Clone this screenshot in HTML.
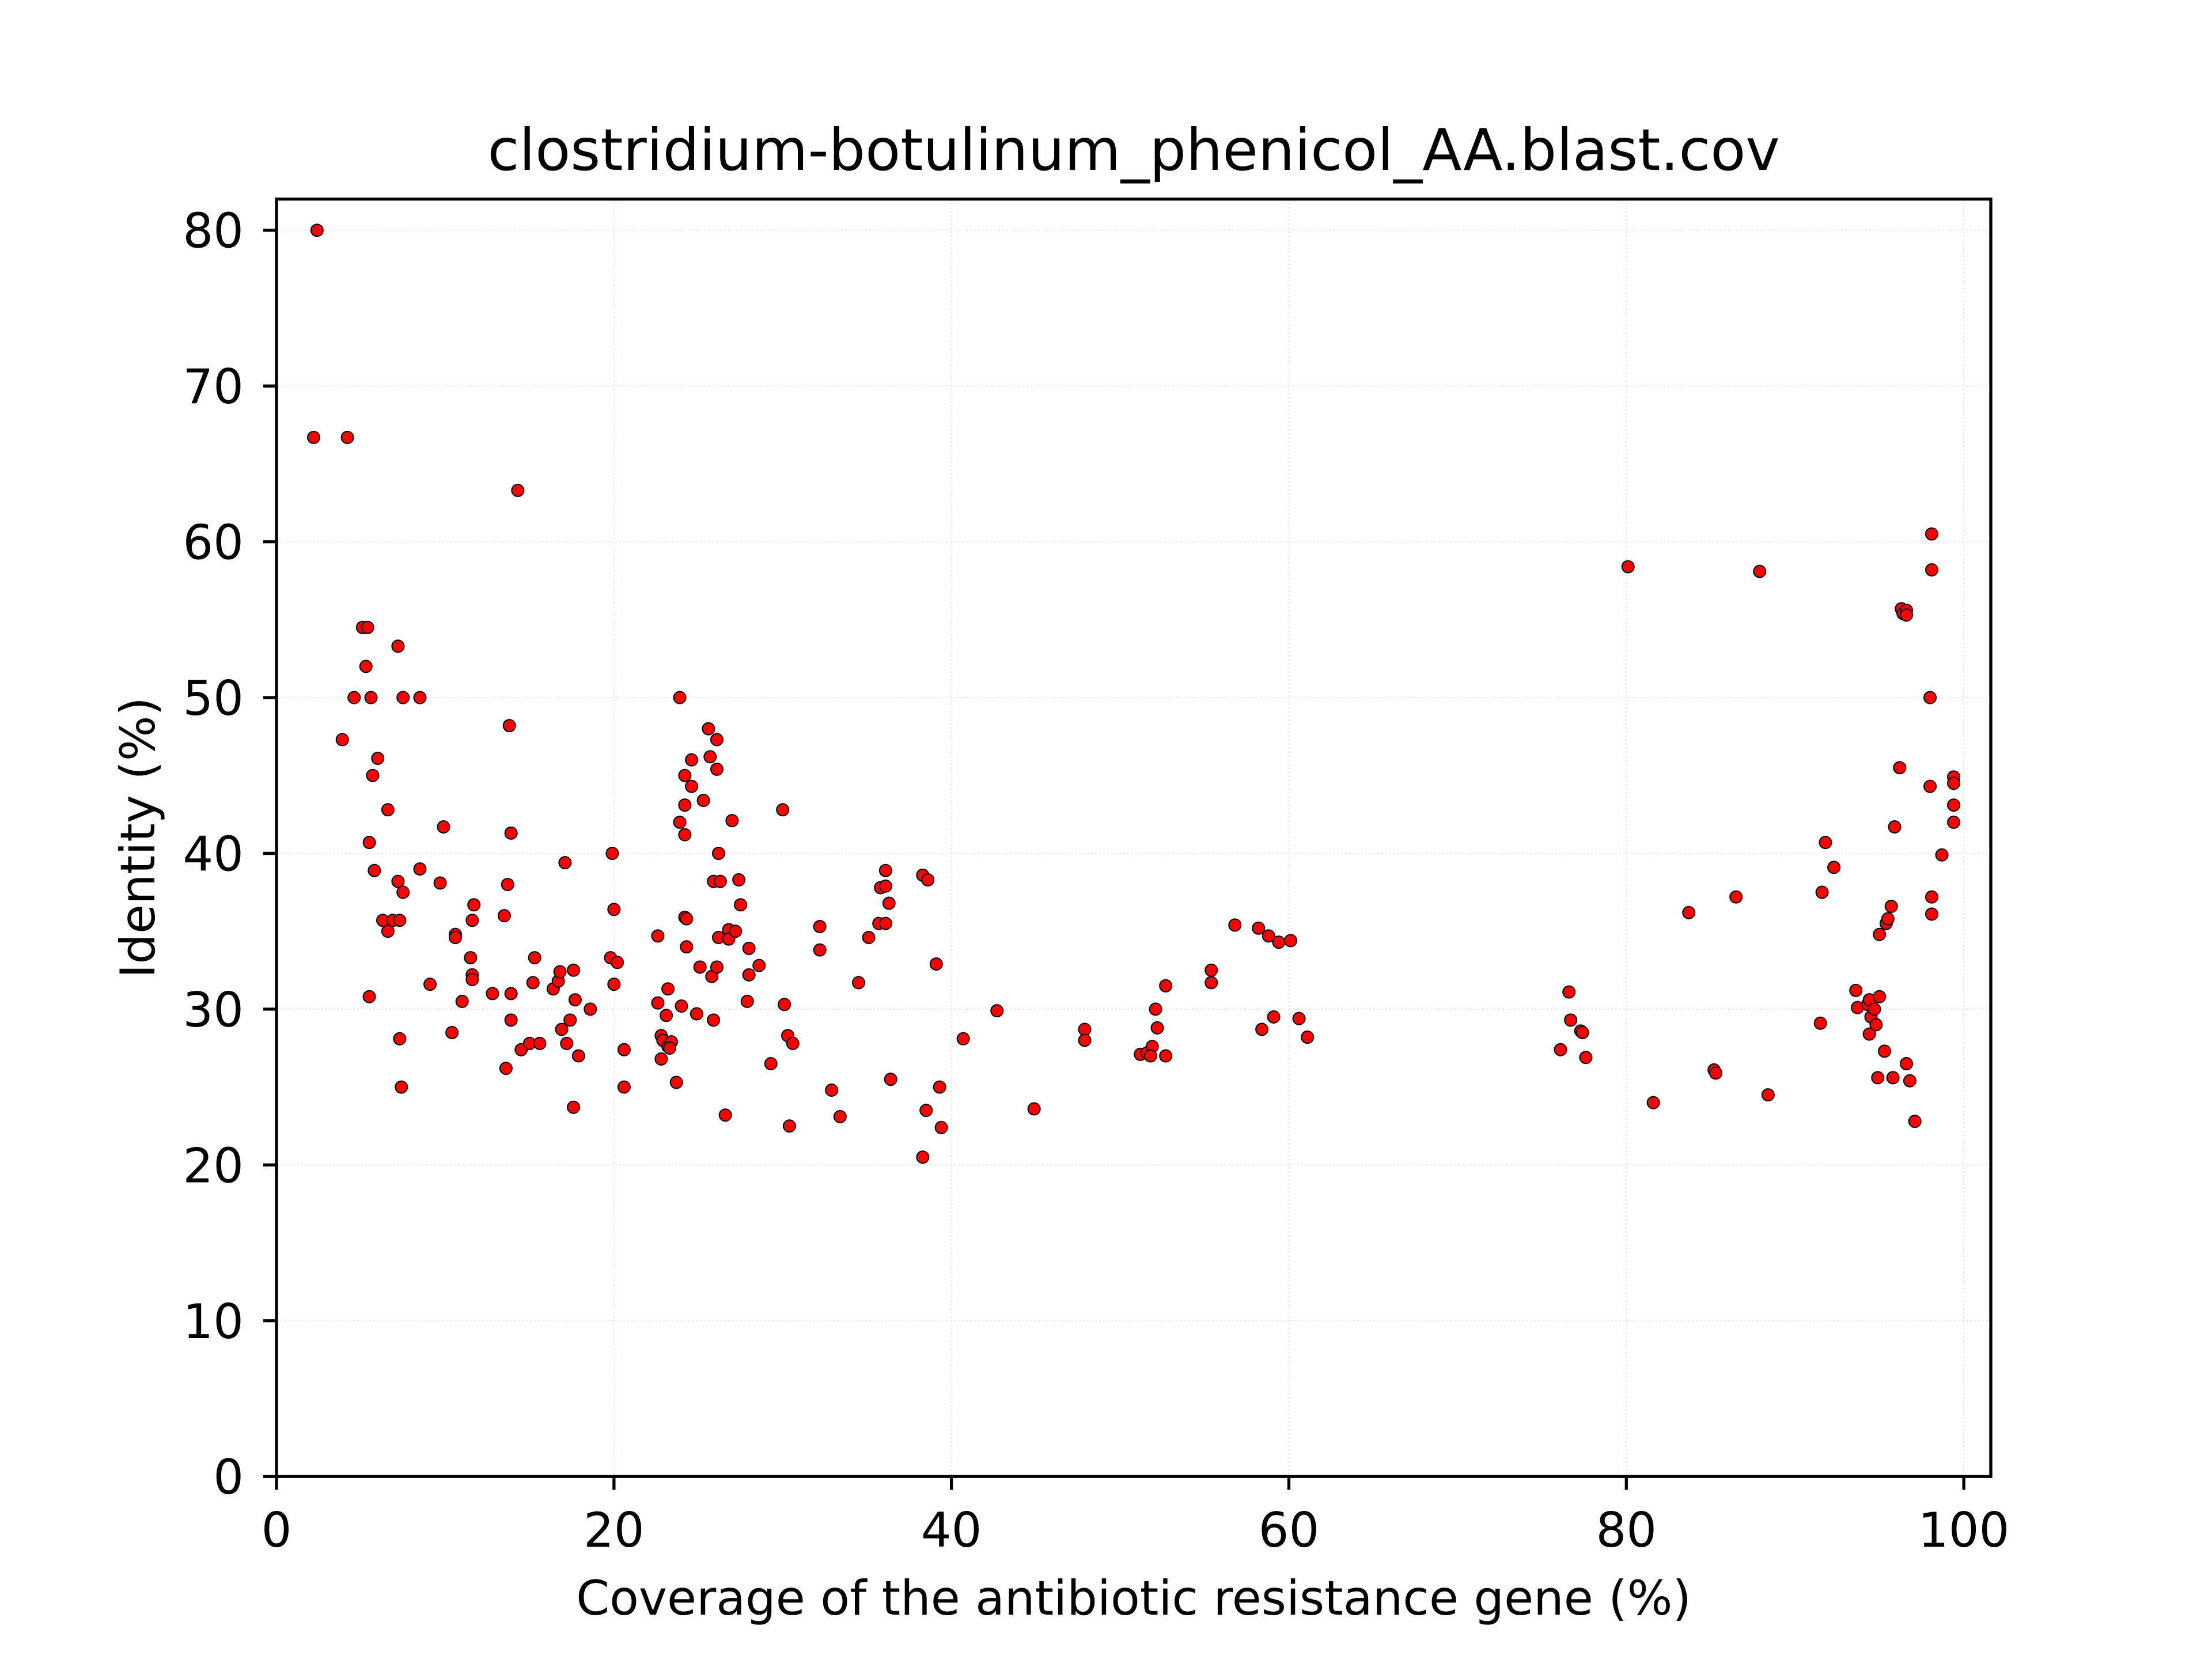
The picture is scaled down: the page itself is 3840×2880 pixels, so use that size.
<!DOCTYPE html>
<html><head><meta charset="utf-8"><style>
html,body{margin:0;padding:0;background:#fff;}
svg{display:block;font-family:"DejaVu Sans","Liberation Sans",sans-serif;}
</style></head><body>
<svg id="chart" width="3840" height="2880" viewBox="0 0 3840 2880" xmlns="http://www.w3.org/2000/svg">
<rect width="3840" height="2880" fill="#fff"/>
<text x="1968" y="295" font-size="100" text-anchor="middle">clostridium-botulinum_phenicol_AA.blast.cov</text>
<g id="grid"></g><g id="ticks"></g><g id="points"></g>
<rect x="480" y="345.6" width="2976" height="2217.6" fill="none" stroke="#000" stroke-width="5.3"/>
<text x="1968" y="2803" font-size="83" text-anchor="middle">Coverage of the antibiotic resistance gene (%)</text>
<text transform="translate(268,1454) rotate(-90)" font-size="83" text-anchor="middle">Identity (%)</text>
</svg>
<script>
const xTicks=[0,20,40,60,80,100];
const yTicks=[0,10,20,30,40,50,60,70,80];
const xs=[2.4,2.2,4.2,14.3,5.1,5.4,7.2,5.3,4.6,5.6,7.5,8.5,13.8,3.9,6,5.7,6.6,5.5,5.8,7.2,7.5,6.3,6.9,7.3,6.6,8.5,9.9,9.7,9.1,5.5,7.3,7.4,10.6,10.6,10.4,11,11.5,11.6,11.7,11.6,11.6,12.8,13.5,13.7,13.9,13.9,13.9,13.6,14.5,15,15.2,15.3,15.6,16.4,16.7,16.8,16.9,17.1,17.2,17.4,17.6,17.7,17.9,17.6,18.6,19.9,20,19.8,20.2,20,20.6,20.6,22.6,22.6,22.8,22.9,22.8,23.2,23.1,23.2,23.4,23.3,23.7,23.9,23.9,24.2,24.2,24.2,24.2,24.3,24.3,24,24.6,24.6,24.9,25.1,25.3,25.6,25.7,25.9,25.8,25.9,26.1,26.1,26.2,26.3,26.2,26.1,26.6,26.8,26.8,27.0,27.2,27.4,27.5,27.9,28,28,28.6,29.3,30,30.1,30.3,30.4,30.6,32.2,32.2,32.9,33.4,34.5,35.1,35.7,35.8,36.1,36.1,36.1,36.3,36.4,38.3,38.6,38.3,38.5,39.1,39.3,39.4,40.7,42.7,44.9,47.9,47.9,51.2,51.6,51.9,51.8,52.1,52.2,52.7,52.7,55.4,55.4,56.8,58.2,58.4,58.8,59.1,59.4,60.1,60.6,61.1,76.1,76.6,76.7,77.3,77.4,77.6,80.1,81.6,83.7,85.2,85.3,86.5,87.9,88.4,91.5,91.6,91.8,92.3,93.6,93.7,94.3,94.4,94.5,94.4,94.7,94.8,95,94.9,95.0,95.3,95.4,95.5,95.7,95.8,95.9,96.2,96.3,96.4,96.6,96.6,96.6,96.8,97.1,98.1,98.1,98,98,98.1,98.1,98.7,99.4,99.4,99.4,99.4];
const ys=[80,66.7,66.7,63.3,54.5,54.5,53.3,52,50,50,50,50,48.2,47.3,46.1,45,42.8,40.7,38.9,38.2,37.5,35.7,35.7,35.7,35,39,41.7,38.1,31.6,30.8,28.1,25,34.8,34.6,28.5,30.5,33.3,35.7,36.7,32.2,31.9,31,36,38,41.3,31,29.3,26.2,27.4,27.8,31.7,33.3,27.8,31.3,31.8,32.4,28.7,39.4,27.8,29.3,32.5,30.6,27,23.7,30,40,36.4,33.3,33,31.6,27.4,25,34.7,30.4,28.3,28,26.8,31.3,29.6,27.6,27.9,27.5,25.3,50,42,45,43.1,41.2,35.9,35.8,34,30.2,46,44.3,29.7,32.7,43.4,48,46.2,38.2,32.1,29.3,47.3,45.4,40,38.2,34.6,32.7,23.2,35.1,34.5,42.1,35,38.3,36.7,30.5,33.9,32.2,32.8,26.5,42.8,30.3,28.3,22.5,27.8,35.3,33.8,24.8,23.1,31.7,34.6,35.5,37.8,38.9,37.9,35.5,36.8,25.5,38.6,38.3,20.5,23.5,32.9,25,22.4,28.1,29.9,23.6,28.7,28,27.1,27.2,27.6,27,30,28.8,31.5,27,32.5,31.7,35.4,35.2,28.7,34.7,29.5,34.3,34.4,29.4,28.2,27.4,31.1,29.3,28.6,28.5,26.9,58.4,24,36.2,26.1,25.9,37.2,58.1,24.5,29.1,37.5,40.7,39.1,31.2,30.1,30.3,30.6,29.5,28.4,30,29,30.8,25.6,34.8,27.3,35.5,35.8,36.6,25.6,41.7,45.5,55.7,55.4,55.6,55.3,26.5,25.4,22.8,60.5,58.2,50,44.3,37.2,36.1,39.9,44.9,44.5,43.1,42];
const NS="http://www.w3.org/2000/svg";
const L=480,R=3456,T=345.6,B=2563.2,XMAX=101.6,YMAX=82;
const sx=v=>L+v/XMAX*(R-L), sy=v=>B-v/YMAX*(B-T);
function mk(tag,attrs,parent){const e=document.createElementNS(NS,tag);for(const k in attrs)e.setAttribute(k,attrs[k]);parent.appendChild(e);return e;}
const grid=document.getElementById('grid'),ticks=document.getElementById('ticks'),pts=document.getElementById('points');
xTicks.forEach(v=>{const x=sx(v);
 const g=mk('line',{x1:x,x2:x,y1:T,y2:B,stroke:'#e6e6e6','stroke-width':2,'stroke-dasharray':'3,4'},grid);
 
 
 const t=mk('line',{x1:x,x2:x,y1:B,y2:B+23,stroke:'#000','stroke-width':5.3},ticks);
 
 
 const l=mk('text',{x:x,y:B+122,'font-size':83,'text-anchor':'middle'},ticks);l.textContent=v;
 
 });
yTicks.forEach(v=>{const y=sy(v);
 const g=mk('line',{x1:L,x2:R,y1:y,y2:y,stroke:'#e6e6e6','stroke-width':2,'stroke-dasharray':'3,4'},grid);
 
 
 const t=mk('line',{x1:L-23,x2:L,y1:y,y2:y,stroke:'#000','stroke-width':5.3},ticks);
 
 
 const l=mk('text',{x:L-57,y:y+30,'font-size':83,'text-anchor':'end'},ticks);l.textContent=v;
 
 });
xs.forEach((x,i)=>{const c=mk('circle',{cx:sx(x),cy:sy(ys[i]),r:10.5,fill:'#ff0000',stroke:'#000','stroke-width':2},pts);
 
 });
</script>
</body></html>
